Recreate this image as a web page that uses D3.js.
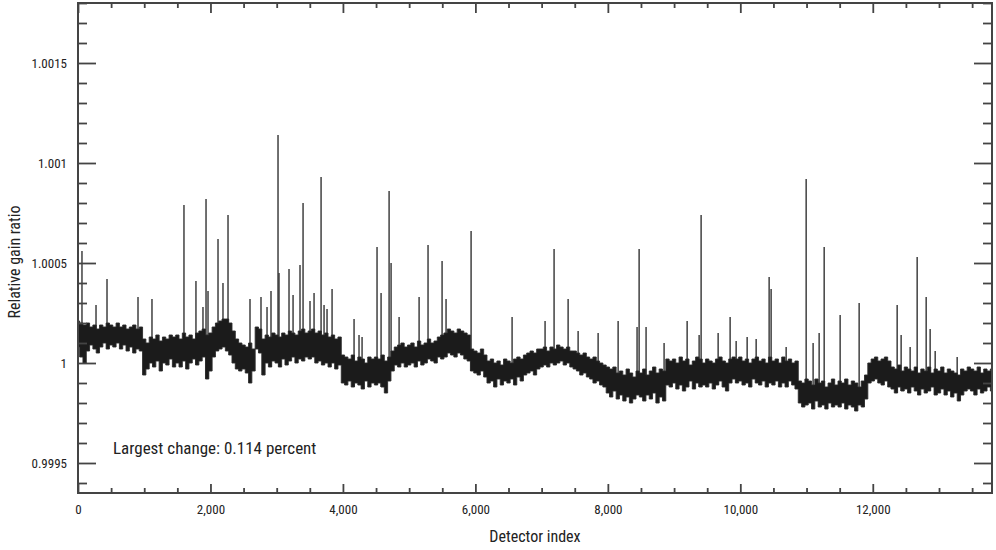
<!DOCTYPE html>
<html><head><meta charset="utf-8">
<script src="https://cdn.jsdelivr.net/npm/d3@7"></script>
<style>
html,body{margin:0;padding:0;background:#fff;}
svg{display:block;}
text{font-family:"Liberation Sans Narrow","Roboto Condensed","Liberation Sans",sans-serif;fill:#222;}
</style></head>
<body><svg id="chart" width="996" height="550"></svg>
<script>
// ---- data ----
const xDomain = [0, 13800];
const yDomain = [0.99935, 1.0018];
const xMajorTicks = [0, 2000, 4000, 6000, 8000, 10000, 12000];
const xMinorTicks = [500,1000,1500,2500,3000,3500,4500,5000,5500,6500,7000,7500,8500,9000,9500,10500,11000,11500,12500,13000,13500];
const yMajorTicks = [0.9995, 1, 1.0005, 1.001, 1.0015];
const yMinorTicks = [0.9994,0.9996,0.9997,0.9998,0.9999,1.0001,1.0002,1.0003,1.0004,1.0006,1.0007,1.0008,1.0009,1.0011,1.0012,1.0013,1.0014,1.0016,1.0017,1.0018];
const xTickLabels = ["0","2,000","4,000","6,000","8,000","10,000","12,000"];
const yTickLabels = ["0.9995","1","1.0005","1.001","1.0015"];

// detector index of band samples (every 50 detectors)
const bandIndex = d3.range(0, 13801, 50);
// local maximum of the gain ratio around each sample
const bandHigh = [
1.00021,1.0002,1.00019,1.0002,1.00018,1.00019,1.00017,1.00019,1.00018,1.0002,
1.00019,1.00018,1.0002,1.00018,1.00019,1.00017,1.00018,1.00019,1.00017,1.00018,
1.00012,1.0001,1.00013,1.00012,1.00014,1.00011,1.00013,1.00012,1.00014,1.00013,
1.00014,1.00012,1.00015,1.00013,1.00014,1.00012,1.00015,1.00016,1.00017,1.00014,
1.00015,1.00018,1.0002,1.00021,1.00022,1.00022,1.0002,1.00016,1.00012,1.0001,
1.00009,1.00008,1.0001,1.00007,1.00018,1.00017,1.00012,1.00014,1.00013,1.00015,
1.00014,1.00013,1.00015,1.00014,1.00016,1.00015,1.00014,1.00016,1.00017,1.00015,
1.00016,1.00017,1.00015,1.00016,1.00014,1.00015,1.00013,1.00014,1.00012,1.00013,
1.00004,1.00003,1.00002,1.00004,1.00001,1.00003,1.00002,1,1.00003,1.00002,
1.00003,1.00002,1.00004,1.00001,1.00003,1.00006,1.00008,1.00009,1.0001,1.00008,
1.00009,1.0001,1.00008,1.00011,1.00009,1.0001,1.00012,1.0001,1.00011,1.00013,
1.00014,1.00015,1.00017,1.00016,1.00015,1.00017,1.00016,1.00015,1.00014,1.00007,
1.00006,1.00005,1.00007,1.00004,1.00001,1.00002,1,1.00001,0.99999,1.00002,
1.00001,1,1.00002,1.00003,1.00002,1.00004,1.00005,1.00006,1.00005,1.00007,
1.00007,1.00008,1.00006,1.00008,1.00007,1.00009,1.00008,1.00007,1.00008,1.00006,
1.00006,1.00005,1.00004,1.00005,1.00003,1.00002,1.00003,1.00001,1,0.99999,
0.99998,0.99997,0.99998,0.99995,0.99996,0.99994,0.99997,0.99995,0.99993,0.99996,
0.99995,0.99997,0.99994,0.99996,0.99998,0.99995,0.99997,0.99996,1.00002,1.00001,
1.00002,1,1.00003,1.00001,1.00002,0.99999,1.00001,1.00003,1.00002,1,
1.00002,1.00001,1,1.00002,1.00003,1.00001,1,1.00002,1.00003,1.00002,
1.00003,1.00001,1.00002,1,1.00002,1.00003,1.00001,1.00002,1,1.00003,
1.00001,1.00002,1,1.00003,1.00001,1.00002,1,1.00001,0.99991,0.9999,
0.99992,0.99991,0.99989,0.99992,0.9999,0.99991,0.99988,0.9999,0.99992,0.99989,
0.99991,0.9999,0.99992,0.99989,0.99991,0.9999,0.99988,0.99991,0.99994,1,
1.00002,1.00003,1.00001,1.00002,1.00003,1.00001,0.99998,0.99997,0.99999,0.99996,
0.99998,0.99997,0.99996,0.99998,0.99995,0.99997,0.99996,0.99998,0.99995,0.99997,
0.99996,0.99998,0.99995,0.99997,0.99996,0.99995,0.99994,0.99997,0.99996,0.99998,
0.99997,0.99996,0.99998,0.99995,0.99997,0.99996,0.99997
];
// local minimum of the gain ratio around each sample
const bandLow = [
1.00008,1.00003,1,1.00006,1.00009,1.00007,1.00005,1.00008,1.0001,1.00007,
1.00009,1.00008,1.0001,1.00007,1.00009,1.00006,1.00008,1.00005,1.00007,1.00006,
0.99994,0.99997,1,0.99998,1.00001,0.99996,1,0.99999,1.00002,0.99998,
1,0.99998,1.00001,0.99997,1,1.00002,0.99999,1.00001,1.00003,0.99992,
0.99996,1.00003,1.00006,1.00007,1.00008,1.00006,1.00004,1,0.99997,0.99996,
0.99997,0.99995,0.9999,0.99996,1.00007,1.00005,0.99994,1,0.99998,1.00001,
1,0.99998,1.00002,0.99999,1.00001,1.00003,1,1.00002,1.00001,1.00003,
1.00002,1.00003,1,1.00001,0.99999,1,0.99998,1,0.99997,0.99999,
0.9999,0.99989,0.99991,0.99988,0.9999,0.99989,0.99987,0.99991,0.99988,0.9999,
0.99989,0.9999,0.99988,0.99985,0.99991,0.99996,0.99999,0.99998,1,0.99998,
0.99999,1,0.99998,1.00001,0.99999,1,1.00002,1.00001,1,1.00003,
1.00002,1.00003,1.00005,1.00004,1.00003,1.00005,1.00004,1.00002,1.00001,0.99996,
0.99995,0.99994,0.99996,0.99993,0.9999,0.99991,0.99988,0.99992,0.99989,0.99991,
0.9999,0.99992,0.99989,0.99993,0.99991,0.99994,0.99995,0.99996,0.99994,0.99997,
0.99998,0.99999,0.99998,1,0.99999,1,1.00001,0.99999,1,0.99998,
0.99997,0.99996,0.99994,0.99995,0.99993,0.99992,0.9999,0.99991,0.99989,0.99988,
0.99985,0.99983,0.99986,0.99982,0.99984,0.99981,0.99983,0.9998,0.99982,0.99984,
0.99983,0.99981,0.99984,0.99982,0.99985,0.9998,0.99983,0.99981,0.99989,0.99988,
0.9999,0.99987,0.99989,0.99986,0.99988,0.99991,0.99987,0.9999,0.99988,0.99989,
0.99988,0.9999,0.99987,0.99989,0.99991,0.99988,0.99986,0.9999,0.99992,0.9999,
0.99991,0.99989,0.9999,0.99988,0.99992,0.9999,0.99989,0.99991,0.99988,0.9999,
0.99989,0.99991,0.99988,0.9999,0.99988,0.99991,0.99989,0.99987,0.9998,0.99978,
0.99979,0.9998,0.99977,0.99981,0.99978,0.99979,0.99977,0.9998,0.99978,0.99979,
0.99978,0.9998,0.99977,0.99979,0.99978,0.99976,0.99979,0.99978,0.99982,0.9999,
0.99991,0.99992,0.9999,0.99989,0.99991,0.99988,0.99987,0.99985,0.99988,0.99986,
0.99987,0.99985,0.99988,0.99986,0.99984,0.99987,0.99985,0.99986,0.99988,0.99984,
0.99985,0.99987,0.99984,0.99986,0.99983,0.99985,0.99981,0.99984,0.99986,0.99987,
0.99986,0.99984,0.99987,0.99985,0.99986,0.99988,0.99986
];
// isolated spikes: detector index and peak gain ratio
const spikeIndex = [60,272,438,906,1117,1600,1781,1887,1933,1963,2114,2189,2265,2597,2763,2854,2914,3020,3035,3186,3247,3352,3398,3503,3564,3670,3715,3760,3836,4168,4243,4289,4515,4576,4697,4727,4848,5150,5285,5497,5557,5935,6554,7052,7188,7400,7551,7853,8155,8441,8472,8577,8849,9197,9378,9408,9665,9846,9937,10103,10239,10435,10465,10692,10994,11099,11190,11266,11507,11794,12368,12428,12564,12670,12806,12866,12942,13274];
const spikeValue = [1.00056,1.00029,1.00042,1.00033,1.00032,1.00079,1.00041,1.00028,1.00082,1.00036,1.00062,1.0004,1.00074,1.00032,1.00033,1.00028,1.00036,1.00114,1.00045,1.00047,1.00034,1.00049,1.0008,1.00031,1.00035,1.00093,1.00029,1.00027,1.00037,1.00022,1.00014,1.00013,1.00058,1.00035,1.00086,1.0005,1.00023,1.00033,1.00059,1.00051,1.00032,1.00066,1.00023,1.00021,1.00057,1.00032,1.00016,1.00015,1.00021,1.00018,1.00057,1.00018,1.0001,1.00021,1.00014,1.00074,1.00015,1.00023,1.00011,1.00013,1.00012,1.00043,1.00037,1.00008,1.00092,1.0001,1.00015,1.00058,1.00024,1.0003,1.00029,1.00014,1.00008,1.00053,1.00033,1.00017,1.00006,1.00003];

const annotation = "Largest change: 0.114 percent";
const xTitle = "Detector index";
const yTitle = "Relative gain ratio";

// ---- drawing ----
const svg = d3.select("#chart");
const L = 78, R = 992, T = 3, B = 493;
const x = d3.scaleLinear().domain(xDomain).range([L, R]);
const y = d3.scaleLinear().domain(yDomain).range([B, T]);

const plot = svg.append("g");
plot.append("clipPath").attr("id","clip").append("rect")
  .attr("x",L).attr("y",T).attr("width",R-L).attr("height",B-T);
const g = plot.append("g").attr("clip-path","url(#clip)");

// spikes
const nearestLow = i => bandLow[Math.min(bandLow.length-1, Math.round(spikeIndex[i]/50))];
g.selectAll("line.spike").data(spikeIndex).join("line")
  .attr("class","spike")
  .attr("x1", d => x(d)).attr("x2", d => x(d))
  .attr("y1", (d,i) => y(spikeValue[i]))
  .attr("y2", (d,i) => y(nearestLow(i)))
  .attr("stroke","#333").attr("stroke-width",1.4);

// noise band
const band = bandIndex.map((d,i) => ({i:d, hi:bandHigh[i], lo:bandLow[i]}));
g.append("path").datum(band)
  .attr("d", d3.area().curve(d3.curveStep).x(d => x(d.i)).y0(d => y(d.lo)).y1(d => y(d.hi)))
  .attr("fill","#1b1b1b").attr("stroke","#2a2a2a").attr("stroke-width",0.9);

// axes
const axisColor = "#444";
function styleAxis(sel){
  sel.select(".domain").remove();
  sel.selectAll(".tick line").attr("stroke",axisColor).attr("stroke-width",1.8);
  sel.selectAll(".tick text").attr("fill","#222");
}
// left
svg.append("g").attr("transform",`translate(${L},0)`)
  .call(d3.axisLeft(y).tickValues(yMajorTicks).tickSize(-18).tickPadding(11)
        .tickFormat((d,i) => yTickLabels[i]))
  .call(styleAxis).call(s => s.selectAll("text").style("font-size","13px"));
svg.append("g").attr("transform",`translate(${L},0)`)
  .call(d3.axisLeft(y).tickValues(yMinorTicks).tickSize(-9).tickFormat(""))
  .call(styleAxis);
// right
svg.append("g").attr("transform",`translate(${R},0)`)
  .call(d3.axisRight(y).tickValues(yMajorTicks).tickSize(-18).tickFormat(""))
  .call(styleAxis);
svg.append("g").attr("transform",`translate(${R},0)`)
  .call(d3.axisRight(y).tickValues(yMinorTicks).tickSize(-9).tickFormat(""))
  .call(styleAxis);
// bottom
svg.append("g").attr("transform",`translate(0,${B})`)
  .call(d3.axisBottom(x).tickValues(xMajorTicks).tickSize(-9).tickPadding(12)
        .tickFormat((d,i) => xTickLabels[i]))
  .call(styleAxis).call(s => s.selectAll("text").style("font-size","13px"));
svg.append("g").attr("transform",`translate(0,${B})`)
  .call(d3.axisBottom(x).tickValues(xMinorTicks).tickSize(-5).tickFormat(""))
  .call(styleAxis);
// top
svg.append("g").attr("transform",`translate(0,${T})`)
  .call(d3.axisTop(x).tickValues(xMajorTicks).tickSize(-10).tickFormat(""))
  .call(styleAxis);
svg.append("g").attr("transform",`translate(0,${T})`)
  .call(d3.axisTop(x).tickValues(xMinorTicks).tickSize(-5).tickFormat(""))
  .call(styleAxis);

// frame
svg.append("rect").attr("x",L).attr("y",T).attr("width",R-L).attr("height",B-T)
  .attr("fill","none").attr("stroke",axisColor).attr("stroke-width",2);

// titles
svg.append("text").attr("x",(L+R)/2).attr("y",542).attr("text-anchor","middle")
  .style("font-size","16px").text(xTitle);
svg.append("text").attr("transform","translate(20,262) rotate(-90)").attr("text-anchor","middle")
  .style("font-size","16px").text(yTitle);
svg.append("text").attr("x",113).attr("y",454)
  .style("font-size","17px").text(annotation);
</script></body></html>
